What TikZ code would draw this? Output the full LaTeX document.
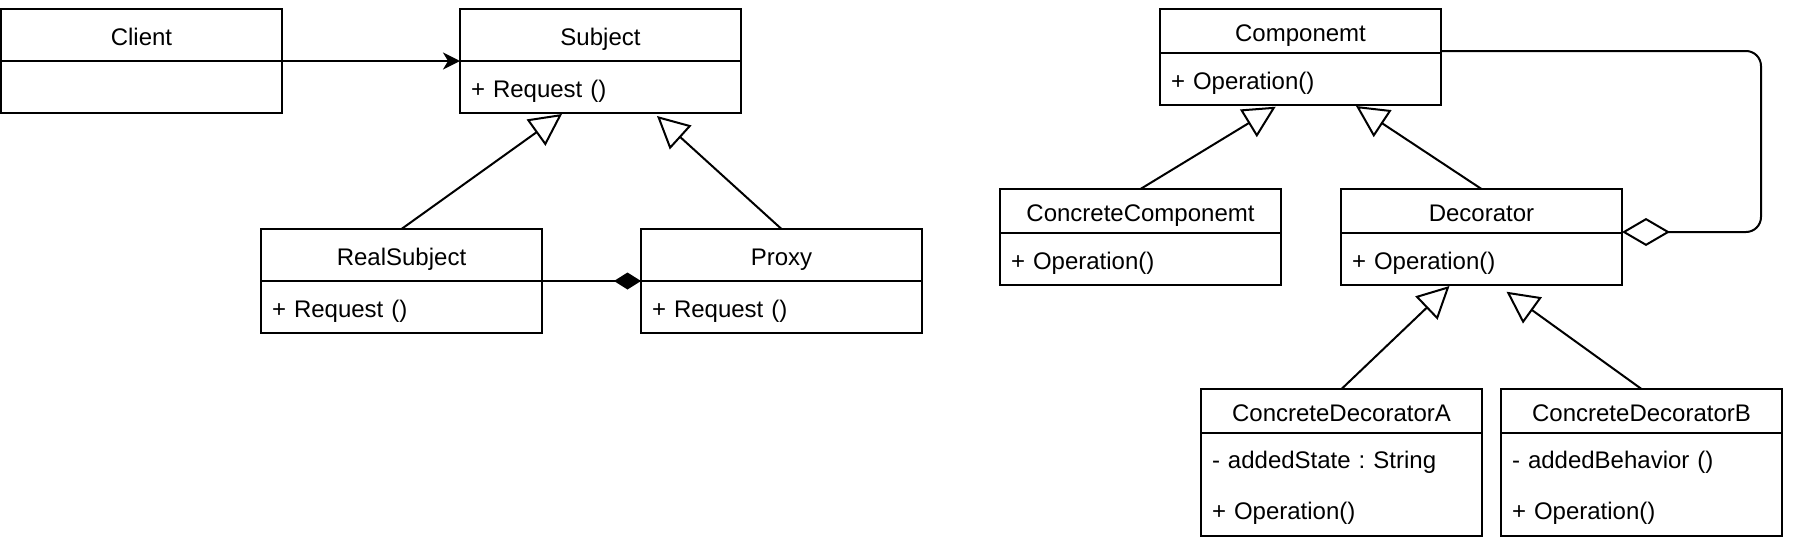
\documentclass[tikz,border=0pt]{standalone}
\usepackage{fontspec}
\setmainfont{Liberation Sans}
\usetikzlibrary{arrows.meta,calc}
\frenchspacing
\begin{document}
\begin{tikzpicture}[x=1pt,y=-1pt,
  umlbox/.style={draw, line width=2pt, anchor=north west, minimum width=281pt,
    inner sep=0pt, outer sep=0pt, font=\fontsize{24}{28.8}\selectfont\frenchspacing,
    text height=20pt, text depth=0pt},
  ttl/.style={umlbox, align=center},
  tall/.style={minimum height=52pt},
  short/.style={minimum height=44pt},
  body/.style={umlbox, align=left, text width=259pt, inner xsep=11pt, inner ysep=0pt},
  twoline/.style={minimum height=103pt, text depth=51.3pt},
  conn/.style={line width=2pt},
  inherit/.style={conn, -{Triangle[open, length=32pt, width=32pt]}},
  assoc/.style={conn, -{Stealth[length=17pt, width=17pt, inset=5pt]}},
  compose/.style={conn, -{Diamond[length=27pt, width=17pt]}},
  aggregate/.style={conn, rounded corners=15pt, -{Diamond[open, length=48pt, width=28pt]}}
]
\useasboundingbox (0,0) rectangle (1816,544);

% Proxy pattern
\node[ttl,tall] (client) at (1,9) {Client};
\node[body,tall] (client-b) at (client.south west) {};
\node[ttl,tall] (subject) at (460,9) {Subject};
\node[body,tall] (subject-b) at (subject.south west) {+ Request ()};
\node[ttl,tall] (realsubject) at (261,229) {RealSubject};
\node[body,tall] (realsubject-b) at (realsubject.south west) {+ Request ()};
\node[ttl,tall] (proxy) at (641,229) {Proxy};
\node[body,tall] (proxy-b) at (proxy.south west) {+ Request ()};

% Decorator pattern
\node[ttl,short] (componemt) at (1160,9) {Componemt};
\node[body,tall] (componemt-b) at (componemt.south west) {+ Operation()};
\node[ttl,short] (cc) at (1000,189) {ConcreteComponemt};
\node[body,tall] (cc-b) at (cc.south west) {+ Operation()};
\node[ttl,short] (decorator) at (1341,189) {Decorator};
\node[body,tall] (decorator-b) at (decorator.south west) {+ Operation()};
\node[ttl,short] (cda) at (1201,389) {ConcreteDecoratorA};
\node[body,twoline] (cda-b) at (cda.south west) {- addedState : String\\[21.5pt]+ Operation()};
\node[ttl,short] (cdb) at (1501,389) {ConcreteDecoratorB};
\node[body,twoline] (cdb-b) at (cdb.south west) {- addedBehavior ()\\[21.5pt]+ Operation()};

% arrow tip points
\coordinate (t1) at (562,114);
\coordinate (t2) at (657,116);
\coordinate (t3) at (1275.7,106.7);
\coordinate (t4) at (1356,106);
\coordinate (t5) at (1449.5,286);
\coordinate (t6) at (1506.5,291.7);
\coordinate (a1) at (1761,51);
\coordinate (a2) at (1761,232);

% connectors
\draw[assoc] (client.south east) -- (subject.south west);
\draw[compose] (realsubject.south east) -- (proxy.south west);
\draw[inherit] (realsubject.north) -- (t1);
\draw[inherit] (proxy.north) -- (t2);
\draw[inherit] (cc.north) -- (t3);
\draw[inherit] (decorator.north) -- (t4);
\draw[inherit] (cda.north) -- (t5);
\draw[inherit] (cdb.north) -- (t6);
\draw[aggregate] ($(componemt.south east)+(0,-2)$) -- (a1) -- (a2) -- ($(decorator.south east)+(0,-1)$);
\end{tikzpicture}
\end{document}
